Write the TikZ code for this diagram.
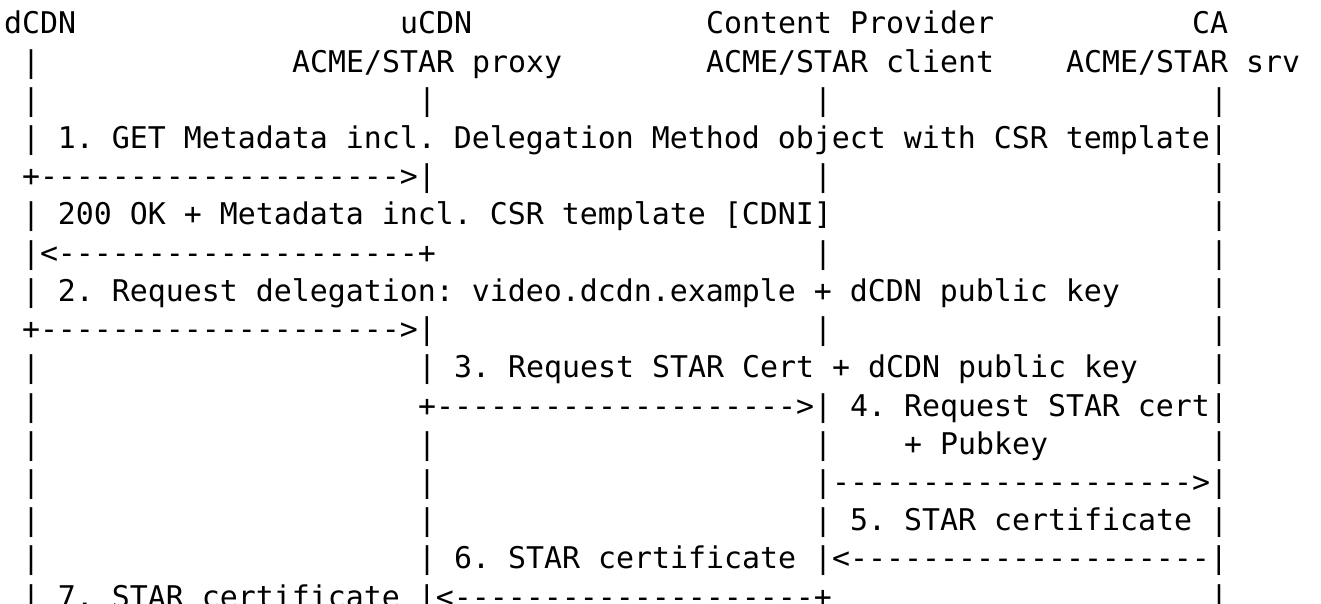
\documentclass[tikz,border=0pt]{standalone}
\usepackage{fontspec}
\setmonofont{DejaVu Sans Mono}
\ExplSyntaxOn
\cs_new:Npn \dsh #1 { \prg_replicate:nn {#1} { -{} } }
\ExplSyntaxOff
\begin{document}
\begin{tikzpicture}[x=9pt,y=-19.1pt,
  txt/.style={anchor=base west,inner sep=0pt,outer sep=0pt,
    font=\ttfamily\frenchspacing\fontsize{14.95}{18}\selectfont}]
\useasboundingbox (0pt,0pt) rectangle (660.5pt,-302pt);
\fill[white] (0pt,0pt) rectangle (660.5pt,-302pt);
\clip (0pt,0pt) rectangle (660.5pt,-302pt);
\begin{scope}[shift={(2pt,-17pt)}]
% headers
\node[txt] (h1) at (0,0) {dCDN};
\node[txt] (h2) at (22,0) {uCDN};
\node[txt] (h3) at (39,0) {Content Provider};
\node[txt] (h4) at (66,0) {CA};
\node[txt] (s2) at (16,1) {ACME/STAR proxy};
\node[txt] (s3) at (39,1) {ACME/STAR client};
\node[txt] (s4) at (59,1) {ACME/STAR srv};
% lifeline bars
\foreach \c/\r in {1/1,1/2,23/2,45/2,67/2,45/4,67/4,67/5,45/6,67/6,67/7,45/8,67/8,
  1/9,67/9,1/10,1/11,23/11,45/11,67/11,1/12,23/12,1/13,23/13,1/14,67/15}
  \node[txt] (v\c-\r) at (\c,\r) {|};
% messages
\node[txt] (m1) at (1,3) {| 1. GET Metadata incl. Delegation Method object with CSR template|};
\node[txt] (a1) at (1,4) {+\dsh{20}>|};
\node[txt] (m1r) at (1,5) {| 200 OK + Metadata incl. CSR template [CDNI]};
\node[txt] (a1r) at (1,6) {|<\dsh{20}+};
\node[txt] (m2) at (1,7) {| 2. Request delegation: video.dcdn.example + dCDN public key};
\node[txt] (a2) at (1,8) {+\dsh{20}>|};
\node[txt] (m3) at (23,9) {| 3. Request STAR Cert + dCDN public key};
\node[txt] (a3) at (23,10) {+\dsh{20}>| 4. Request STAR cert|};
\node[txt] (m4) at (50,11) {+ Pubkey};
\node[txt] (a4) at (45,12) {|\dsh{20}>|};
\node[txt] (m5) at (45,13) {| 5. STAR certificate |};
\node[txt] (a56) at (23,14) {| 6. STAR certificate |<\dsh{20}|};
\node[txt] (a7) at (1,15) {| 7. STAR certificate |<\dsh{20}+};
\end{scope}
\end{tikzpicture}
\end{document}
